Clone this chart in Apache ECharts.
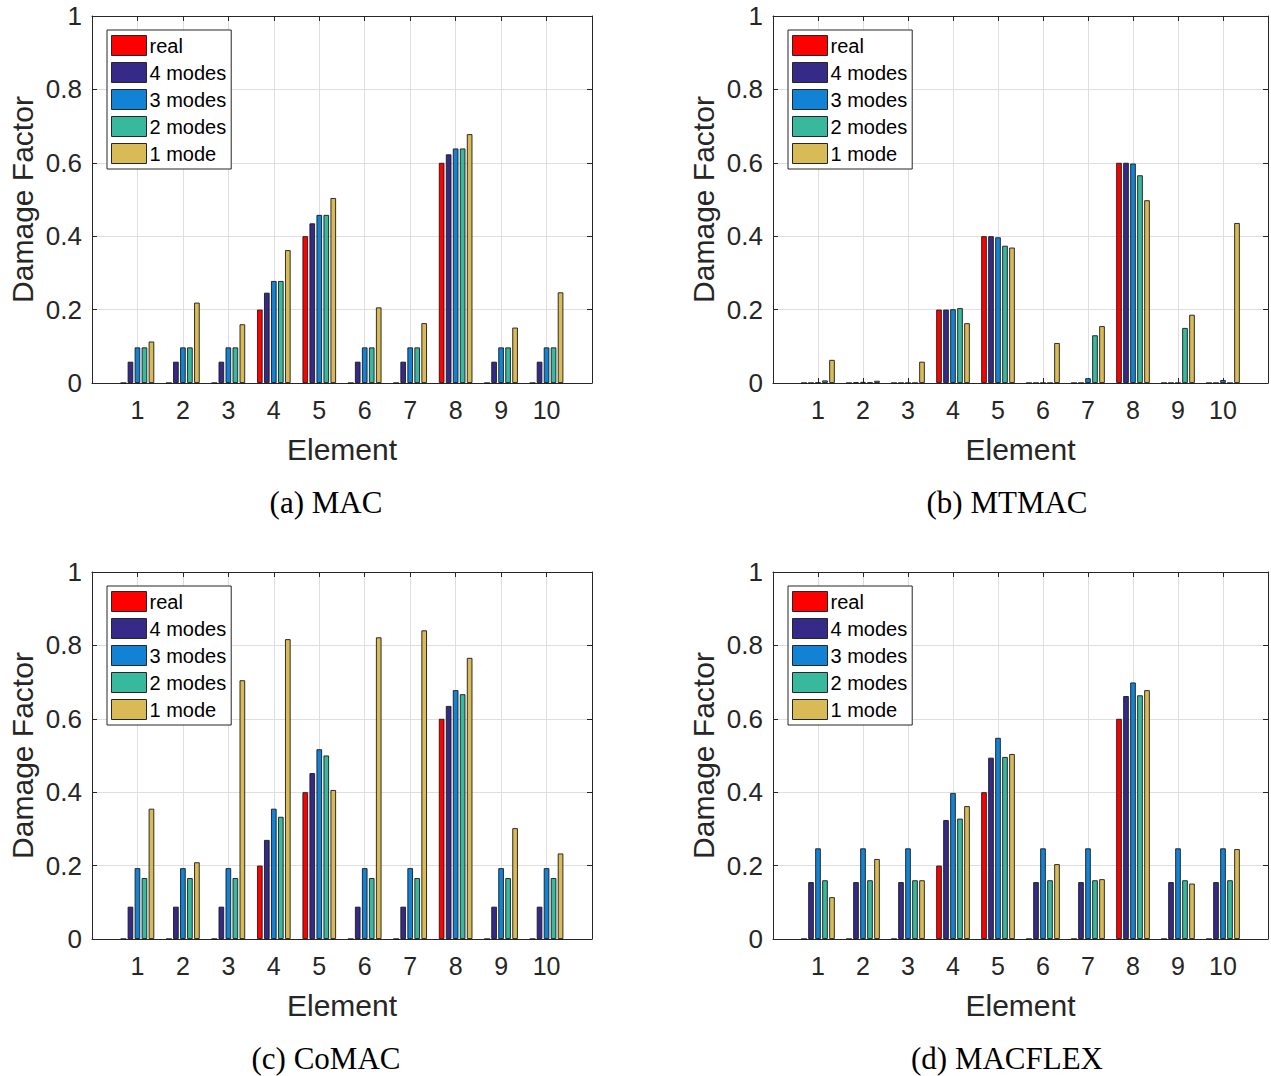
<!DOCTYPE html>
<html><head><meta charset="utf-8">
<script src="https://cdn.jsdelivr.net/npm/echarts@6/dist/echarts.min.js"></script>
<style>html,body{margin:0;padding:0;background:#fff}#c{width:1271px;height:1076px}</style>
</head><body><div id="c"></div>
<script>
// ---- data ----
const elements = ['1','2','3','4','5','6','7','8','9','10'];
const seriesNames = ['real','4 modes','3 modes','2 modes','1 mode'];
const yTickLabels = ['0','0.2','0.4','0.6','0.8','1'];
const captions = ['(a) MAC','(b) MTMAC','(c) CoMAC','(d) MACFLEX'];

const MAC_real  = [0,0,0,0.2,0.4,0,0,0.6,0,0];
const MAC_4     = [0.058,0.058,0.058,0.246,0.435,0.058,0.058,0.623,0.058,0.058];
const MAC_3     = [0.097,0.097,0.097,0.278,0.458,0.097,0.097,0.639,0.097,0.097];
const MAC_2     = [0.097,0.097,0.097,0.278,0.458,0.097,0.097,0.639,0.097,0.097];
const MAC_1     = [0.113,0.219,0.160,0.362,0.504,0.206,0.163,0.678,0.151,0.247];

const MTMAC_real = [0,0,0,0.2,0.4,0,0,0.6,0,0];
const MTMAC_4    = [0,0.002,0,0.2,0.4,0,0,0.6,0,0];
const MTMAC_3    = [0.001,0.003,0,0.201,0.397,0,0.013,0.598,0,0.008];
const MTMAC_2    = [0.007,0.001,0,0.204,0.374,0,0.130,0.566,0.150,0];
const MTMAC_1    = [0.063,0.006,0.058,0.163,0.369,0.109,0.155,0.498,0.186,0.436];

const CoMAC_real = [0,0,0,0.2,0.4,0,0,0.6,0,0];
const CoMAC_4    = [0.088,0.088,0.088,0.270,0.452,0.088,0.088,0.635,0.088,0.088];
const CoMAC_3    = [0.193,0.193,0.193,0.355,0.517,0.193,0.193,0.678,0.193,0.193];
const CoMAC_2    = [0.166,0.166,0.166,0.333,0.500,0.166,0.166,0.667,0.166,0.166];
const CoMAC_1    = [0.355,0.209,0.705,0.817,0.406,0.822,0.841,0.766,0.302,0.233];

const MACFLEX_real = [0,0,0,0.2,0.4,0,0,0.6,0,0];
const MACFLEX_4    = [0.155,0.155,0.155,0.324,0.494,0.155,0.155,0.662,0.155,0.155];
const MACFLEX_3    = [0.247,0.247,0.247,0.398,0.548,0.247,0.247,0.699,0.247,0.247];
const MACFLEX_2    = [0.160,0.160,0.160,0.328,0.496,0.160,0.160,0.664,0.160,0.160];
const MACFLEX_1    = [0.114,0.218,0.160,0.362,0.504,0.204,0.163,0.678,0.151,0.245];

// ---- chart ----
const chart = echarts.init(document.getElementById('c'), null, {renderer: 'svg'});
const cats = [''].concat(elements, ['']);
const pad = a => [null].concat(a, [null]);
const colors = ['#FF0000', '#352A87', '#1283D4', '#38B89D', '#D8BA56'];
const AX = '#262626';
const SANS = "'Liberation Sans', Arial, sans-serif";
const SERIF = "'Liberation Serif', 'Times New Roman', serif";

const panels = [
  {left: 92,  top: 16,  data: [MAC_real, MAC_4, MAC_3, MAC_2, MAC_1]},
  {left: 773, top: 16,  data: [MTMAC_real, MTMAC_4, MTMAC_3, MTMAC_2, MTMAC_1]},
  {left: 92,  top: 572, data: [CoMAC_real, CoMAC_4, CoMAC_3, CoMAC_2, CoMAC_1]},
  {left: 773, top: 572, data: [MACFLEX_real, MACFLEX_4, MACFLEX_3, MACFLEX_2, MACFLEX_1]}
];
const W = 500, H = 367;

const option = {animation: false, grid: [], xAxis: [], yAxis: [], series: [], legend: [], title: []};

panels.forEach((p, i) => {
  option.grid.push({left: p.left, top: p.top, width: W, height: H});
  option.xAxis.push({
    type: 'category', gridIndex: i, data: cats, boundaryGap: false, position: 'bottom',
    axisLine: {onZero: false, lineStyle: {color: AX, width: 1}},
    axisTick: {inside: true, length: 5, interval: 0, lineStyle: {color: AX}},
    axisLabel: {interval: 0, color: AX, fontSize: 25, fontFamily: SANS, margin: 14},
    splitLine: {show: true, interval: 0, lineStyle: {color: '#dfdfdf', width: 1}},
    name: 'Element', nameLocation: 'middle', nameGap: 51,
    nameTextStyle: {fontSize: 30, color: AX, fontFamily: SANS}
  });
  option.xAxis.push({
    type: 'category', gridIndex: i, data: cats, boundaryGap: false, position: 'top',
    axisLine: {onZero: false, lineStyle: {color: AX, width: 1}},
    axisTick: {inside: true, length: 5, interval: 0, lineStyle: {color: AX}},
    axisLabel: {show: false}, splitLine: {show: false}
  });
  option.yAxis.push({
    type: 'value', gridIndex: i, min: 0, max: 1, interval: 0.2, position: 'left',
    axisLine: {show: true, onZero: false, lineStyle: {color: AX, width: 1}},
    axisTick: {show: true, inside: true, length: 5, lineStyle: {color: AX}},
    axisLabel: {color: AX, fontSize: 26, fontFamily: SANS, margin: 10,
      formatter: v => yTickLabels[Math.round(v * 5)]},
    splitLine: {show: true, lineStyle: {color: '#dfdfdf', width: 1}},
    name: 'Damage Factor', nameLocation: 'middle', nameGap: 55,
    nameTextStyle: {fontSize: 30, color: AX, fontFamily: SANS}
  });
  option.yAxis.push({
    type: 'value', gridIndex: i, min: 0, max: 1, interval: 0.2, position: 'right',
    axisLine: {show: true, onZero: false, lineStyle: {color: AX, width: 1}},
    axisTick: {show: true, inside: true, length: 5, lineStyle: {color: AX}},
    axisLabel: {show: false}, splitLine: {show: false}
  });
  seriesNames.forEach((n, k) => {
    option.series.push({
      type: 'bar', name: n, xAxisIndex: 2 * i, yAxisIndex: 2 * i,
      data: pad(p.data[k]), barWidth: 5.6, barGap: '25%',
      itemStyle: {color: colors[k], borderColor: '#1a1a1a', borderWidth: 0.9}
    });
  });
  option.legend.push({
    data: seriesNames, orient: 'vertical', left: p.left + 15, top: p.top + 14,
    padding: [5, 5, 5, 4], itemWidth: 35, itemHeight: 20, itemGap: 6,
    icon: 'rect', borderColor: AX, borderWidth: 1, backgroundColor: '#fff',
    itemStyle: {borderColor: '#262626', borderWidth: 1},
    textStyle: {fontSize: 20, color: '#000', fontFamily: SANS, lineHeight: 20, padding: [0, 0, 0, -2]},
    selectedMode: false
  });
  option.title.push({
    text: captions[i], left: p.left + W / 2 - 21, top: p.top + H + 114,
    textAlign: 'center', textVerticalAlign: 'middle',
    textStyle: {fontSize: 31, fontWeight: 'normal', color: '#000', fontFamily: SERIF}
  });
});

chart.setOption(option);
</script>
</body></html>
